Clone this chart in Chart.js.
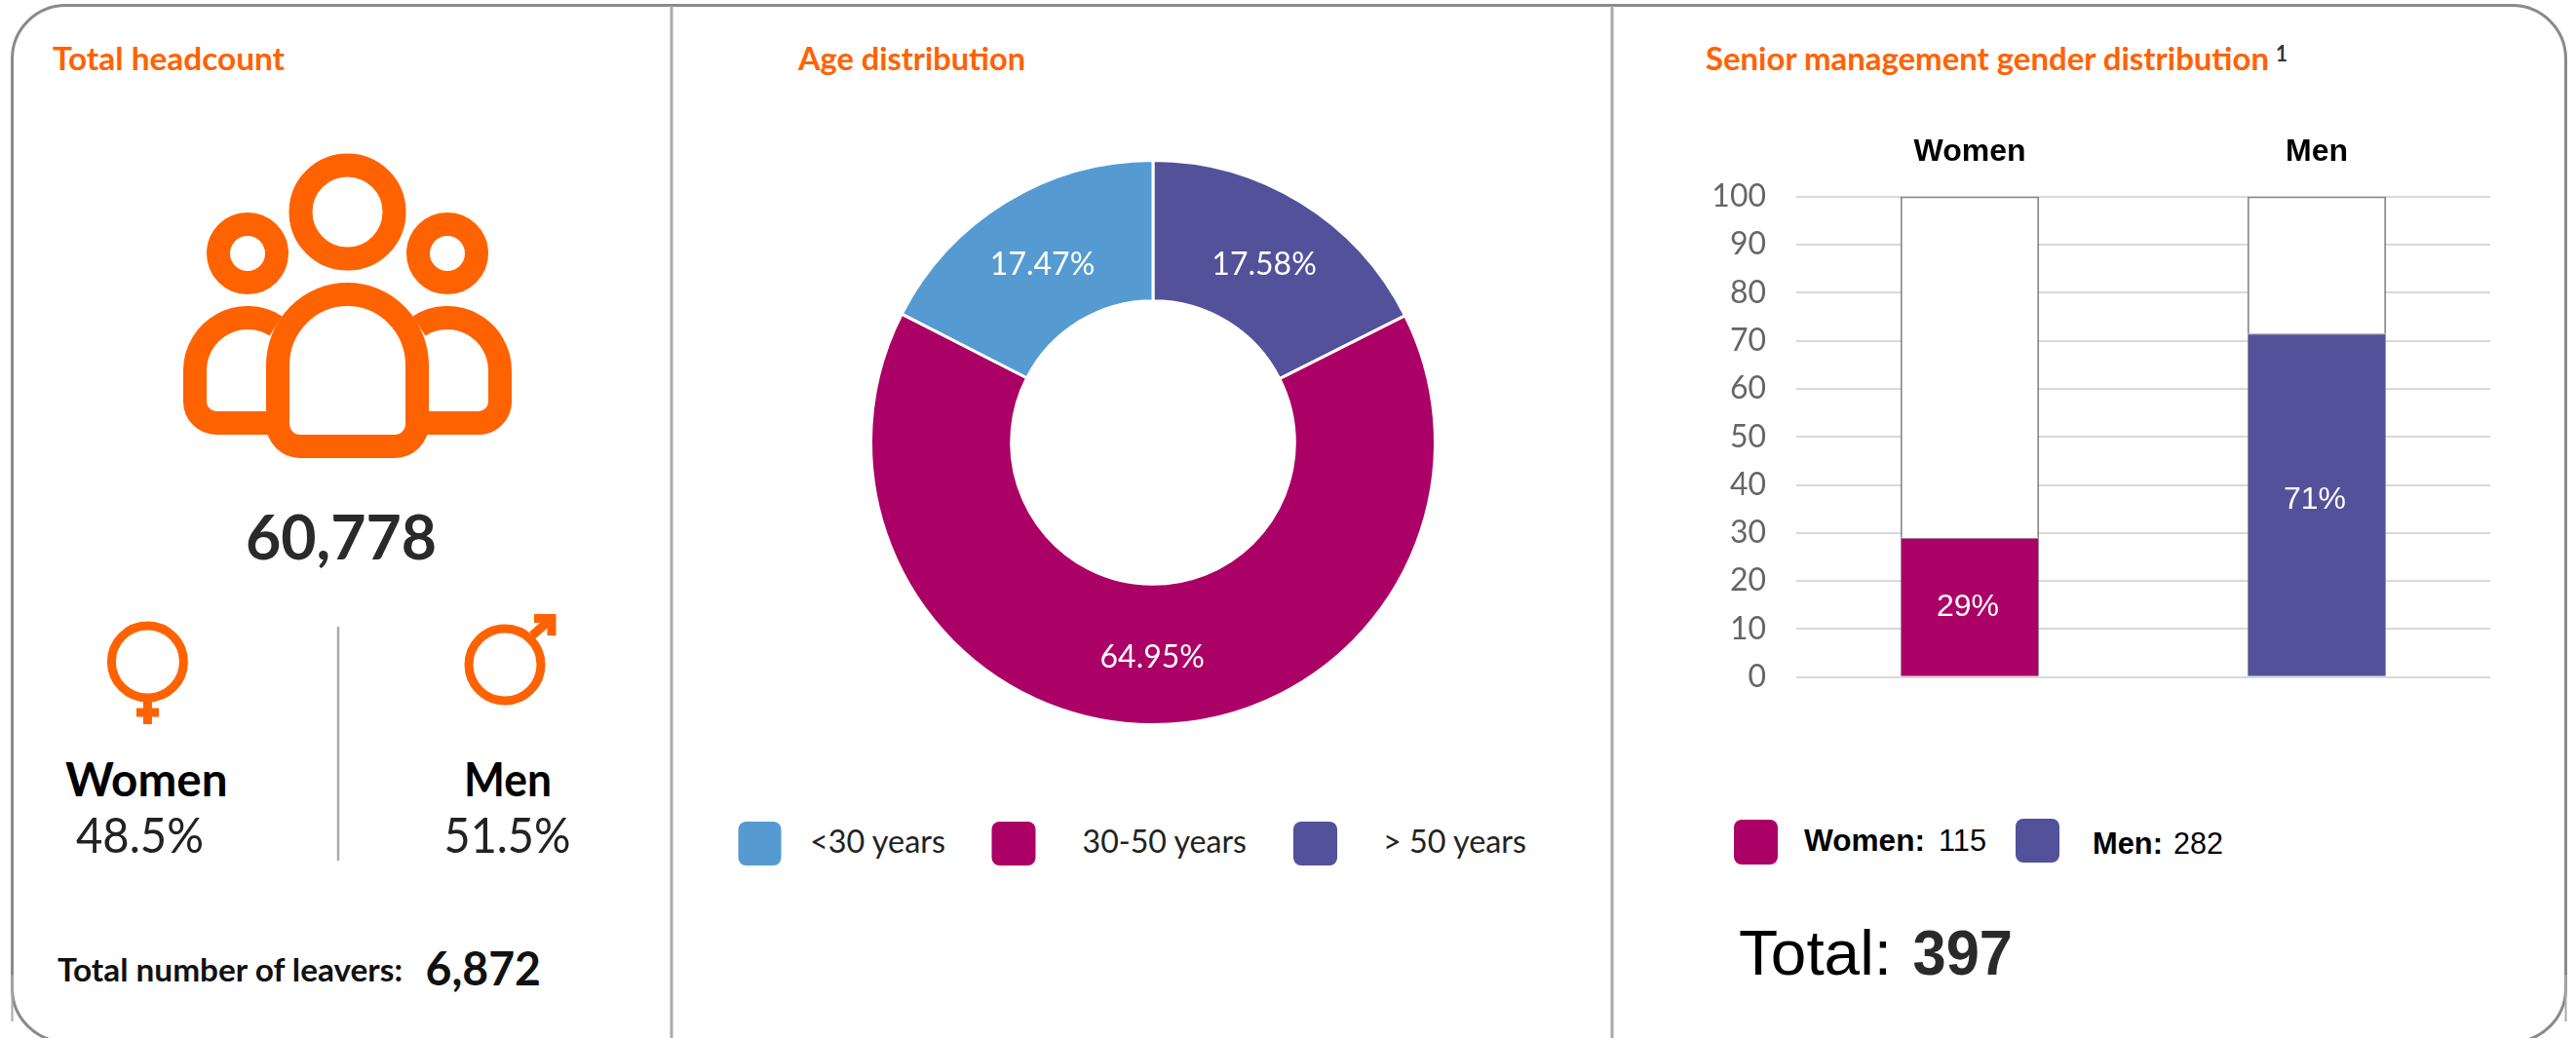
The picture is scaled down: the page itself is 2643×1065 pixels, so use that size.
<!DOCTYPE html>
<html><head><meta charset="utf-8">
<script src="https://cdn.jsdelivr.net/npm/chart.js@4"></script>
<style>
html,body{margin:0;padding:0;background:#fff;width:2643px;height:1065px;overflow:hidden}
#bg{position:absolute;left:0;top:0}
canvas{position:absolute}
#age{left:860px;top:131px}
#gender{left:1700px;top:120px}
</style></head><body>
<svg id="bg" width="2643" height="1065" viewBox="0 0 2643 1065" xmlns="http://www.w3.org/2000/svg">
<rect x="12.5" y="5.5" width="2620" height="1063.5" rx="55" ry="55" fill="none" stroke="#8a8a8a" stroke-width="3"/>
<path d="M12.5 1000V1048M2632.5 1000V1048" stroke="#aaa" stroke-width="2" fill="none"/>
<path d="M689 6V1065M1654 6V1065" stroke="#aaa" stroke-width="3" fill="none"/>
<path d="M347 643V883" stroke="#aaa" stroke-width="2.5" fill="none"/>
<g fill="none" stroke="#FF6200" stroke-width="24">
<circle cx="356.5" cy="217.5" r="48"/>
<circle cx="254" cy="260" r="30"/>
<circle cx="459" cy="260" r="30"/>
<path d="M285 375A71.5 73 0 0 1 428 375V435A23 23 0 0 1 405 458H308A23 23 0 0 1 285 435Z"/>
<path d="M283 334.5A54 54 0 0 0 200 380V412A22 22 0 0 0 222 434H277"/>
<path d="M430 334.5A54 54 0 0 1 513 380V412A22 22 0 0 1 491 434H436"/>
</g>
<g fill="none" stroke="#FF6200" stroke-width="9">
<circle cx="151.4" cy="679" r="37"/>
<path d="M151.4 716V743M140 731H163"/>
<circle cx="518" cy="682" r="37"/>
<path d="M546 652L566 634.5"/>
<path d="M548 634.5H566V652"/>
</g>
<g id="labels"></g>
</svg>
<canvas id="age" width="646" height="646"></canvas>
<canvas id="gender" width="900" height="625"></canvas>
<script>
// ---- data ----
const ageLabels = ['> 50 years', '30-50 years', '<30 years'];
const ageValues = [17.58, 64.95, 17.47];
const ageText = ['17.58%', '64.95%', '17.47%'];
const ageColors = ['#52519A', '#AB0066', '#559BD1'];
const genderCategories = ['Women', 'Men'];
const seniorShare = [29, 71.5];
const seniorRest = [71, 28.5];
const seniorText = ['29%', '71%'];
const seniorColors = ['#AB0066', '#52519A'];
const yTicks = [0, 10, 20, 30, 40, 50, 60, 70, 80, 90, 100];
const headcount = '60,778';
const leavers = '6,872';

const UI = 'Lato';
const AR = '"Liberation Sans"';
const ORANGE = '#FF6200';

// text: [string, x, y baseline, fitted width, size, weight, colour, family]
const texts = [
 ['Total headcount', 54, 72, 238, 32, 700, ORANGE, UI],
 ['Age distribution', 819, 72, 233, 32, 700, ORANGE, UI],
 ['Senior management gender distribution', 1750, 72, 578, 32, 700, ORANGE, UI],
 ['1', 2335, 63, 12, 22, 700, '#333', UI],
 [headcount, 252, 574, 196, 64, 700, '#2a2a2a', UI],
 ['Women', 67, 817, 166.5, 47, 700, '#000', UI],
 ['Men', 476, 817, 90, 47, 700, '#000', UI],
 ['48.5%', 78, 875, 131, 50, 400, '#222', UI],
 ['51.5%', 455.5, 875, 130, 50, 400, '#222', UI],
 ['Total number of leavers:', 59, 1007, 354, 32, 700, '#111', UI],
 [leavers, 436.5, 1011, 118.5, 47, 700, '#111', UI],
 ['<30 years', 831, 875, 139, 33, 400, '#222', UI],
 ['30-50 years', 1110.5, 875, 168.5, 33, 400, '#222', UI],
 ['> 50 years', 1419, 875, 147, 33, 400, '#222', UI],
 ['Women:', 1851, 873, 124, 31, 700, '#000', AR],
 ['115', 1989, 873, 49, 31, 400, '#000', AR],
 ['Men:', 2147, 876, 72, 31, 700, '#000', AR],
 ['282', 2230, 876, 51, 31, 400, '#000', AR],
 ['Total:', 1784, 1000, 157, 64, 400, '#000', AR],
 ['397', 1962.5, 1000, 102.5, 64, 700, '#2a2a2a', AR]
];
// swatch: [x, y, width, height, colour]
const swatches = [
 [757.5, 843, 44, 45, ageColors[2]],
 [1017.5, 843, 45, 45, ageColors[1]],
 [1327, 843, 45, 45, ageColors[0]],
 [1779, 841, 45, 46, seniorColors[0]],
 [2068, 840, 45, 45, seniorColors[1]]
];
const NS = 'http://www.w3.org/2000/svg';
const g = document.getElementById('labels');
swatches.forEach(s => {
  const r = document.createElementNS(NS, 'rect');
  [['x', s[0]], ['y', s[1]], ['width', s[2]], ['height', s[3]], ['rx', 8], ['fill', s[4]]].forEach(a => r.setAttribute(a[0], a[1]));
  g.appendChild(r);
});
texts.forEach(t => {
  const e = document.createElementNS(NS, 'text');
  e.textContent = t[0];
  [['x', t[1]], ['y', t[2]], ['textLength', t[3]], ['lengthAdjust', 'spacingAndGlyphs'], ['font-size', t[4]], ['font-weight', t[5]], ['fill', t[6]], ['font-family', t[7]]].forEach(a => e.setAttribute(a[0], a[1]));
  g.appendChild(e);
});

Chart.defaults.animation = false;

const arcLabels = {
  id: 'arcLabels',
  afterDatasetsDraw(chart) {
    const c = chart.ctx;
    const arcs = chart.getDatasetMeta(0).data;
    c.save();
    c.fillStyle = '#fff';
    c.font = '400 32px ' + UI;
    c.textAlign = 'center';
    c.textBaseline = 'middle';
    arcs.forEach((a, i) => {
      const p = a.tooltipPosition();
      c.fillText(ageText[i], p.x, p.y + 3);
    });
    c.restore();
  }
};
new Chart(document.getElementById('age'), {
  type: 'doughnut',
  data: { labels: ageLabels, datasets: [{ data: ageValues, backgroundColor: ageColors, borderColor: '#fff', borderWidth: 3 }] },
  options: {
    responsive: false, cutout: '50.2%',
    layout: { padding: 32 },
    plugins: { legend: { display: false }, tooltip: { enabled: false } }
  },
  plugins: [arcLabels]
});

const barLabelLift = [0, 5];
const barLabels = {
  id: 'barLabels',
  afterDatasetsDraw(chart) {
    const c = chart.ctx;
    const bars = chart.getDatasetMeta(0).data;
    c.save();
    c.fillStyle = '#fff';
    c.font = '400 32px ' + AR;
    c.textAlign = 'center';
    c.textBaseline = 'middle';
    bars.forEach((b, i) => {
      const p = b.getCenterPoint();
      c.fillText(seniorText[i], p.x - 2, p.y - barLabelLift[i]);
    });
    c.restore();
  }
};
new Chart(document.getElementById('gender'), {
  type: 'bar',
  data: {
    labels: genderCategories,
    datasets: [
      { data: seniorShare, backgroundColor: seniorColors, borderColor: '#8a8a8a', borderWidth: 1 },
      { data: seniorRest, backgroundColor: '#fff', borderColor: '#8a8a8a', borderWidth: 2 }
    ]
  },
  options: {
    responsive: false,
    layout: { padding: { right: 45, bottom: 40.5, left: 0, top: 0 } },
    plugins: { legend: { display: false }, tooltip: { enabled: false } },
    datasets: { bar: { barPercentage: 0.4, categoryPercentage: 1 } },
    scales: {
      x: {
        position: 'top', stacked: true,
        grid: { display: false }, border: { display: false },
        ticks: { color: '#000', padding: 18, font: { family: AR, size: 32, weight: 700 } },
        afterFit(s) { s.height = 81.6; }
      },
      y: {
        stacked: true, min: 0, max: 100,
        afterBuildTicks(s) { s.ticks = yTicks.map(v => ({ value: v })); },
        grid: { color: '#d9d9d9', lineWidth: 2, drawTicks: false },
        border: { display: false },
        ticks: { color: '#666', padding: 31, font: { family: UI, size: 32, weight: 400 } },
        afterFit(s) { s.width = 143; }
      }
    }
  },
  plugins: [barLabels]
});
</script>
</body></html>
